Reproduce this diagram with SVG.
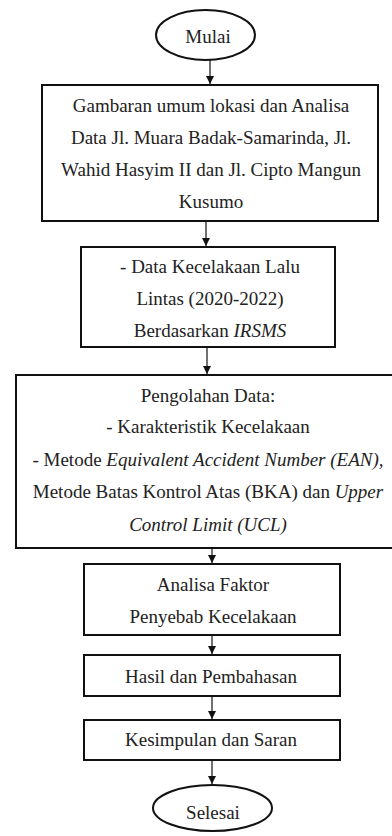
<svg xmlns="http://www.w3.org/2000/svg" width="392" height="836" viewBox="0 0 392 836">
<style>
.box{fill:#fff;stroke:#111;stroke-width:2}
.t{font-family:'Liberation Serif',Tinos,'Times New Roman','Noto Serif','DejaVu Serif',serif;font-size:19px;fill:#222;text-anchor:middle}
.i{font-style:italic}
.c{stroke:#111;stroke-width:1.2;fill:none}
</style>
<defs>
<marker id="ah" viewBox="0 0 10 10" refX="10" refY="5" markerWidth="8" markerHeight="8" markerUnits="userSpaceOnUse" orient="auto">
<path d="M0,0 L10,5 L0,10 z" fill="#111"/>
</marker>
</defs>
<rect width="392" height="836" fill="#fff"/>
<g id="connectors">
<line class="c" x1="210" y1="60" x2="210" y2="84" marker-end="url(#ah)"/>
<line class="c" x1="206" y1="222" x2="206" y2="246" marker-end="url(#ah)"/>
<line class="c" x1="207" y1="348" x2="207" y2="374" marker-end="url(#ah)"/>
<line class="c" x1="212" y1="549" x2="212" y2="563" marker-end="url(#ah)"/>
<line class="c" x1="212" y1="636" x2="212" y2="654" marker-end="url(#ah)"/>
<line class="c" x1="212" y1="697" x2="212" y2="719" marker-end="url(#ah)"/>
<line class="c" x1="212" y1="761" x2="212" y2="784" marker-end="url(#ah)"/>
</g>
<g id="mulai">
<ellipse class="box" cx="205.5" cy="35" rx="49.5" ry="25"/>
<text class="t" font-family="Liberation Serif, serif" x="208" y="43">Mulai</text>
</g>
<g id="box1">
<rect class="box" x="42" y="85" width="336" height="136"/>
<text class="t" font-family="Liberation Serif, serif" x="211" y="112">Gambaran umum lokasi dan Analisa</text>
<text class="t" font-family="Liberation Serif, serif" x="211" y="144">Data Jl. Muara Badak-Samarinda, Jl.</text>
<text class="t" font-family="Liberation Serif, serif" x="211" y="176">Wahid Hasyim II dan Jl. Cipto Mangun</text>
<text class="t" font-family="Liberation Serif, serif" x="211" y="208">Kusumo</text>
</g>
<g id="box2">
<rect class="box" x="81" y="247" width="254" height="100"/>
<text class="t" font-family="Liberation Serif, serif" x="210" y="273">- Data Kecelakaan Lalu</text>
<text class="t" font-family="Liberation Serif, serif" x="210" y="305">Lintas (2020-2022)</text>
<text class="t" font-family="Liberation Serif, serif" x="210" y="337">Berdasarkan <tspan class="i">IRSMS</tspan></text>
</g>
<g id="box3">
<rect class="box" x="16" y="375" width="384" height="173"/>
<text class="t" font-family="Liberation Serif, serif" x="208" y="402">Pengolahan Data:</text>
<text class="t" font-family="Liberation Serif, serif" x="208" y="433">- Karakteristik Kecelakaan</text>
<text class="t" font-family="Liberation Serif, serif" x="208" y="466">- Metode <tspan class="i">Equivalent Accident Number (EAN),</tspan></text>
<text class="t" font-family="Liberation Serif, serif" x="208" y="498">Metode Batas Kontrol Atas (BKA) dan <tspan class="i">Upper</tspan></text>
<text class="t i" font-family="Liberation Serif, serif" x="208" y="531">Control Limit (UCL)</text>
</g>
<g id="box4">
<rect class="box" x="84" y="564" width="256" height="71"/>
<text class="t" font-family="Liberation Serif, serif" x="213" y="591">Analisa Faktor</text>
<text class="t" font-family="Liberation Serif, serif" x="213" y="623">Penyebab Kecelakaan</text>
</g>
<g id="box5">
<rect class="box" x="84" y="655" width="256" height="41"/>
<text class="t" font-family="Liberation Serif, serif" x="211" y="683">Hasil dan Pembahasan</text>
</g>
<g id="box6">
<rect class="box" x="84" y="720" width="256" height="40"/>
<text class="t" font-family="Liberation Serif, serif" x="211" y="746">Kesimpulan dan Saran</text>
</g>
<g id="selesai">
<ellipse class="box" cx="212.5" cy="808" rx="59.5" ry="23"/>
<text class="t" font-family="Liberation Serif, serif" x="213" y="819">Selesai</text>
</g>
</svg>
